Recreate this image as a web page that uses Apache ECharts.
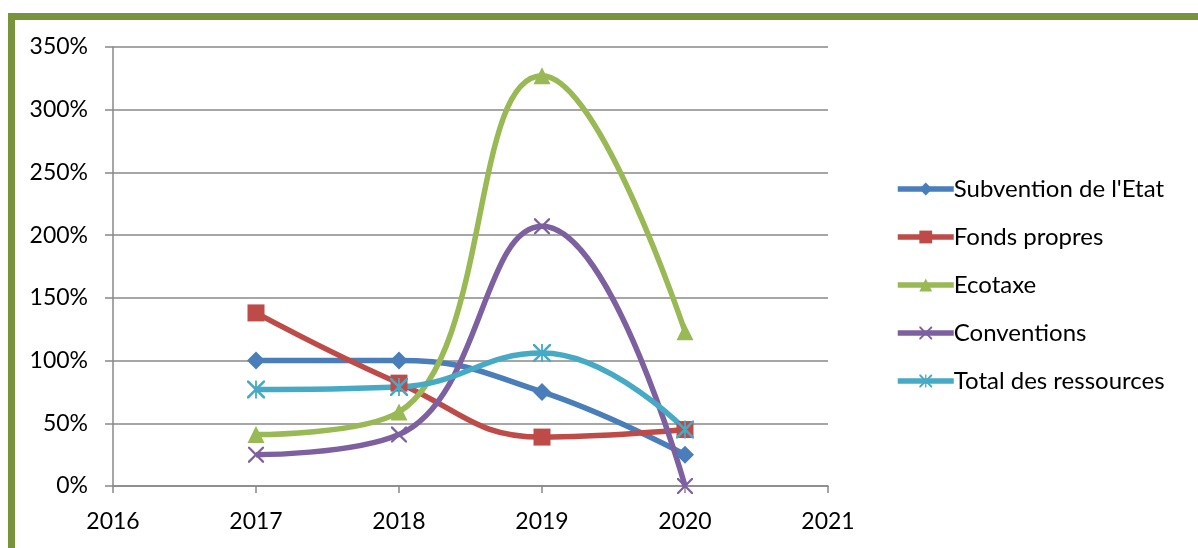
<!DOCTYPE html>
<html>
<head>
<meta charset="utf-8">
<script src="https://cdn.jsdelivr.net/npm/echarts@6/dist/echarts.min.js"></script>
<style>
  html, body { margin: 0; padding: 0; background: #fff; }
  #frame {
    position: absolute; left: 8px; top: 13px; width: 1300px; height: 700px;
    border-left: 7px solid #77933C; border-top: 7px solid #77933C;
  }
  #chart { position: absolute; left: 0; top: 0; width: 1198px; height: 548px; }
</style>
</head>
<body>
<div id="frame"></div>
<div id="chart"></div>
<script>
// années et valeurs (en %)
const years = [2017, 2018, 2019, 2020]
const subvention = [100, 100, 75, 25]
const fondsPropres = [138, 82, 39, 45]
const ecotaxe = [41, 59, 327, 123]
const conventions = [25, 41, 207, 0]
const totalRessources = [77, 79, 106, 45]

const crossPath = 'path://M0,0 L2,0 L10,8 L18,0 L20,0 L20,2 L12,10 L20,18 L20,20 L18,20 L10,12 L2,20 L0,20 L0,18 L8,10 L0,2 Z'
const starPath = 'path://M0,0 L2,0 L10,8 L18,0 L20,0 L20,2 L12,10 L20,18 L20,20 L18,20 L10,12 L2,20 L0,20 L0,18 L8,10 L0,2 Z M9,0 L11,0 L11,20 L9,20 Z'

const makeSeries = (name, values, color, symbol, size) => ({
  name,
  type: 'line',
  smooth: 0.45,
  symbol,
  symbolSize: size,
  itemStyle: {color},
  lineStyle: {width: 5.5, color},
  data: years.map((y, i) => [y, values[i]])
})

const chart = echarts.init(document.getElementById('chart'))
chart.setOption({
  animation: false,
  textStyle: {fontFamily: 'Lato'},
  grid: {left: 113, right: 370, top: 47, bottom: 62},
  xAxis: {
    type: 'value', min: 2016, max: 2021, interval: 1,
    axisLine: {show: true, onZero: false, lineStyle: {color: '#888', width: 1.5}},
    axisTick: {show: true, length: 7, lineStyle: {color: '#888', width: 1.5}},
    splitLine: {show: false},
    axisLabel: {color: '#000', fontSize: 23, margin: 24, formatter: v => String(v)}
  },
  yAxis: {
    type: 'value', min: 0, max: 350, interval: 50,
    axisLine: {show: true, lineStyle: {color: '#888', width: 1.5}},
    axisTick: {show: true, length: 8, lineStyle: {color: '#888', width: 1.5}},
    splitLine: {show: true, lineStyle: {color: '#888', width: 1.5}},
    axisLabel: {color: '#000', fontSize: 23, margin: 25, formatter: '{value}%'}
  },
  legend: {
    orient: 'vertical', left: 890, top: 172, itemGap: 24,
    itemWidth: 56, itemHeight: 16,
    lineStyle: {width: 5.5},
    textStyle: {color: '#000', fontSize: 24, lineHeight: 24, padding: [0, 0, 0, -5]},
    data: ['Subvention de l\'Etat', 'Fonds propres', 'Ecotaxe', 'Conventions', 'Total des ressources']
  },
  series: [
    makeSeries('Subvention de l\'Etat', subvention, '#4A7EBB', 'diamond', 18),
    makeSeries('Fonds propres', fondsPropres, '#BE4B48', 'rect', 17),
    makeSeries('Ecotaxe', ecotaxe, '#98B954', 'triangle', 17),
    makeSeries('Conventions', conventions, '#7D60A0', crossPath, 16),
    makeSeries('Total des ressources', totalRessources, '#46AAC5', starPath, 18)
  ]
})
</script>
</body>
</html>
